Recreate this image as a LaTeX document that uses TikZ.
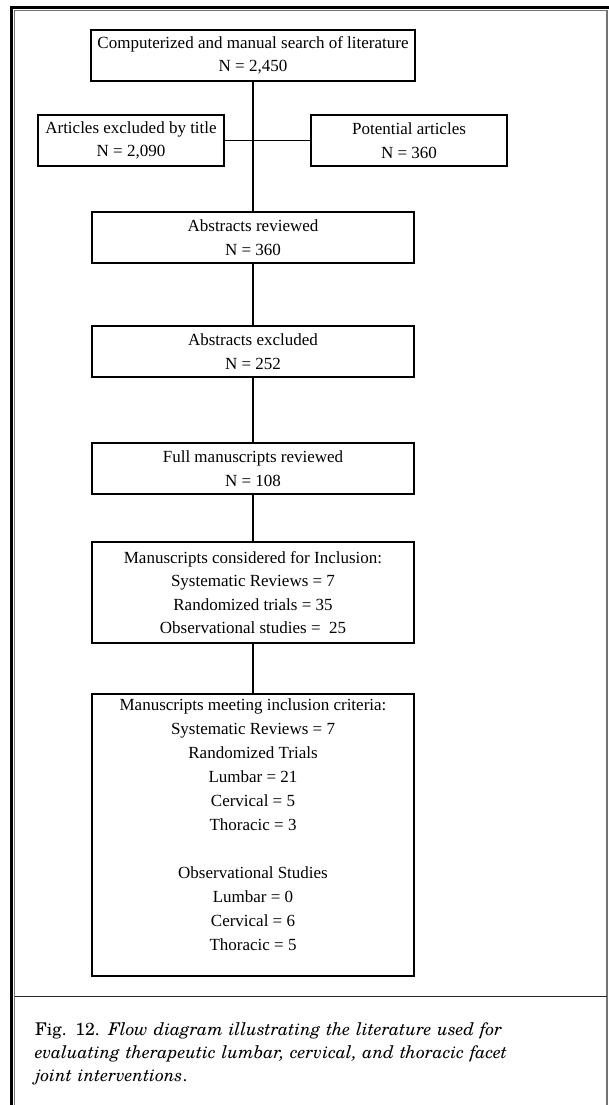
\documentclass[tikz,border=0pt]{standalone}
\usepackage{fontspec}
\setmainfont{Liberation Serif}
\newfontfamily\capfont{TeX Gyre Schola}
\usepackage{tikz}
\usetikzlibrary{positioning}

\begin{document}
\begin{tikzpicture}[
  x=1pt, y=-1pt,
  box/.style={draw, line width=2pt, minimum width=322pt,
              minimum height=51pt, align=center, inner sep=2pt,
              font=\fontsize{17}{23.5}\selectfont},
  link/.style={line width=1.6pt},
  frame/.style={line width=2.7pt},
  rule/.style={line width=1.2pt, black!55}
]
  \useasboundingbox (0,0) rectangle (608,1105);

  % Frame
  \draw[frame] (11.3,1106) -- (11.3,7.5) -- (609,7.5);
  \draw[rule] (14.7,1106) -- (14.7,10.8) -- (607,10.8) -- (607,1106);
  \draw[line width=1.5pt, black!85] (14.7,996.5) -- (607,996.5);

  % Search
  \node[box, minimum width=324pt] (search) at (253,55.5)
    {Computerized and manual search of literature\\N = 2,450};

  % Split by title
  \node[box, minimum width=186pt] (title) at (131,140.5)
    {Articles excluded by title\\N = 2,090};
  \node[box, minimum width=196pt] (potential) at (409,140.5)
    {Potential articles\\N = 360};

  % Review steps
  \node[box, below=129pt of search] (abstracts)
    {Abstracts reviewed\\N = 360};
  \node[box, below=61pt of abstracts] (abexcl)
    {Abstracts excluded\\N = 252};
  \node[box, below=64pt of abexcl] (full)
    {Full manuscripts reviewed\\N = 108};
  \node[box, minimum height=101pt, below=46pt of full] (considered)
    {Manuscripts considered for Inclusion:\\Systematic Reviews = 7\\
     Randomized trials = 35\\Observational studies =~ 25};
  \node[box, below=49pt of considered, text width=316pt,
        align=flush center, font=\fontsize{17}{24}\selectfont,
        text height=14pt, text depth=264pt] (meeting)
    {Manuscripts meeting inclusion criteria:\\
     Systematic Reviews = 7\\
     Randomized Trials\\
     Lumbar = 21\\
     Cervical = 5\\
     Thoracic = 3\\[24pt]
     Observational Studies\\
     Lumbar = 0\\
     Cervical = 6\\
     Thoracic = 5};

  % Links
  \draw[link] (search) -- (abstracts);
  \draw[link] (title) -- (potential);
  \draw[link] (abstracts) -- (abexcl);
  \draw[link] (abexcl) -- (full);
  \draw[link] (full) -- (considered);
  \draw[link] (considered) -- (meeting);

  % Caption
  \node[anchor=base west, text width=560pt, align=left, inner sep=0pt,
        font=\capfont\fontsize{17.5}{23}\selectfont] (caption) at (35,1035)
    {Fig. 12. \textit{Flow diagram illustrating the literature used for}\\
     \textit{evaluating therapeutic lumbar, cervical, and thoracic facet}\\
     \textit{joint interventions}.};
\end{tikzpicture}
\end{document}
